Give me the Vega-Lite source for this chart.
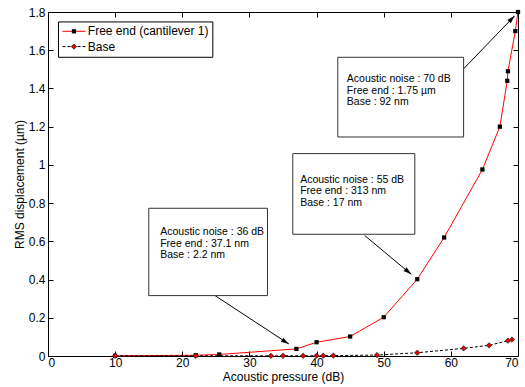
{
  "$schema": "https://vega.github.io/schema/vega-lite/v6.json",
  "width": 470,
  "height": 344,
  "autosize": {"type": "none"},
  "padding": {"left": 48, "top": 12, "right": 7, "bottom": 31},
  "config": {
    "font": "Liberation Sans",
    "view": {"stroke": "black", "strokeWidth": 1},
    "axis": {
      "grid": false,
      "domain": false,
      "tickColor": "black",
      "tickSize": -5,
      "tickWidth": 1,
      "labelColor": "black",
      "labelFontSize": 12,
      "labelFont": "Liberation Sans",
      "titleFont": "Liberation Sans",
      "titleFontSize": 12,
      "titleFontWeight": "normal",
      "titleColor": "black"
    }
  },
  "datasets": {
    "free": [
      {"db": 10, "um": 0.001},
      {"db": 22, "um": 0.004},
      {"db": 25.5, "um": 0.008},
      {"db": 37, "um": 0.0371},
      {"db": 40, "um": 0.072},
      {"db": 45, "um": 0.102},
      {"db": 50, "um": 0.203},
      {"db": 55, "um": 0.402},
      {"db": 59, "um": 0.62},
      {"db": 64.7, "um": 0.976},
      {"db": 67.3, "um": 1.2},
      {"db": 68.4, "um": 1.44},
      {"db": 68.5, "um": 1.49},
      {"db": 69.6, "um": 1.7},
      {"db": 70, "um": 1.8}
    ],
    "base": [
      {"db": 10, "um": 0.001},
      {"db": 22, "um": 0.001},
      {"db": 33.2, "um": 0.001},
      {"db": 35, "um": 0.001},
      {"db": 38, "um": 0.001},
      {"db": 40, "um": 0.0015},
      {"db": 41, "um": 0.0015},
      {"db": 42.5, "um": 0.002},
      {"db": 49, "um": 0.005},
      {"db": 55, "um": 0.017},
      {"db": 61.9, "um": 0.04},
      {"db": 65.7, "um": 0.056},
      {"db": 68.5, "um": 0.08},
      {"db": 69.1, "um": 0.086}
    ],
    "boxes": [
      {"note": "70 dB", "x1": 43.16, "x2": 61.9, "y1": 1.146, "y2": 1.563},
      {"note": "55 dB", "x1": 36.46, "x2": 54.63, "y1": 0.637, "y2": 1.059},
      {"note": "36 dB", "x1": 15.01, "x2": 32.69, "y1": 0.316, "y2": 0.773}
    ],
    "notes": [
      {"x": 44.5, "y": 1.448, "line": "Acoustic noise : 70 dB"},
      {"x": 44.5, "y": 1.387, "line": "Free end : 1.75 µm"},
      {"x": 44.5, "y": 1.328, "line": "Base : 92 nm"},
      {"x": 37.56, "y": 0.923, "line": "Acoustic noise : 55 dB"},
      {"x": 37.56, "y": 0.862, "line": "Free end : 313 nm"},
      {"x": 37.56, "y": 0.799, "line": "Base : 17 nm"},
      {"x": 16.71, "y": 0.647, "line": "Acoustic noise : 36 dB"},
      {"x": 16.71, "y": 0.587, "line": "Free end : 37.1 nm"},
      {"x": 16.71, "y": 0.526, "line": "Base : 2.2 nm"}
    ],
    "arrows": [
      {"note": "70 dB", "x1": 61.63, "y1": 1.493, "x2": 69.5, "y2": 1.78},
      {"note": "55 dB", "x1": 47.18, "y1": 0.63, "x2": 54.1, "y2": 0.4275},
      {"note": "36 dB", "x1": 24.9, "y1": 0.3155, "x2": 35.87, "y2": 0.0628}
    ],
    "legend": [
      {"series": "Free end (cantilever 1)", "y": 1.699},
      {"series": "Base", "y": 1.619}
    ]
  },
  "resolve": {"axis": {"x": "independent", "y": "independent"}},
  "layer": [
    {
      "data": {"name": "free"},
      "mark": {"type": "line", "color": "#ff0000", "strokeWidth": 1},
      "encoding": {
        "x": {
          "field": "db", "type": "quantitative",
          "scale": {"domain": [0, 70], "nice": false},
          "axis": {
            "orient": "bottom",
            "values": [0, 10, 20, 30, 40, 50, 60, 70],
            "format": "d",
            "title": "Acoustic pressure (dB)",
            "labelPadding": 6,
            "titlePadding": 3
          }
        },
        "y": {
          "field": "um", "type": "quantitative",
          "scale": {"domain": [0, 1.8], "nice": false},
          "axis": {
            "orient": "left",
            "values": [0, 0.2, 0.4, 0.6, 0.8, 1, 1.2, 1.4, 1.6, 1.8],
            "format": "~g",
            "title": "RMS displacement (µm)",
            "labelPadding": 8,
            "titlePadding": 2
          }
        }
      }
    },
    {
      "data": {"name": "base"},
      "mark": {"type": "line", "color": "black", "strokeWidth": 1, "strokeDash": [3, 2]},
      "encoding": {
        "x": {
          "field": "db", "type": "quantitative",
          "scale": {"domain": [0, 70], "nice": false},
          "axis": {
            "orient": "top",
            "values": [0, 10, 20, 30, 40, 50, 60, 70],
            "labels": false,
            "title": null
          }
        },
        "y": {
          "field": "um", "type": "quantitative",
          "scale": {"domain": [0, 1.8], "nice": false},
          "axis": {
            "orient": "right",
            "values": [0, 0.2, 0.4, 0.6, 0.8, 1, 1.2, 1.4, 1.6, 1.8],
            "labels": false,
            "title": null
          }
        }
      }
    },
    {
      "data": {"name": "free"},
      "mark": {"type": "point", "shape": "square", "filled": true, "color": "black", "size": 18, "opacity": 1},
      "encoding": {
        "x": {"field": "db", "type": "quantitative", "axis": null},
        "y": {"field": "um", "type": "quantitative", "axis": null}
      }
    },
    {
      "data": {"name": "base"},
      "mark": {"type": "point", "shape": "diamond", "filled": true, "fill": "#ee0000", "stroke": "#222222", "strokeWidth": 0.8, "size": 28, "opacity": 1},
      "encoding": {
        "x": {"field": "db", "type": "quantitative", "axis": null},
        "y": {"field": "um", "type": "quantitative", "axis": null}
      }
    },
    {
      "data": {"name": "arrows"},
      "mark": {"type": "rule", "color": "black", "strokeWidth": 1},
      "encoding": {
        "x": {"field": "x1", "type": "quantitative", "axis": null},
        "y": {"field": "y1", "type": "quantitative", "axis": null},
        "x2": {"field": "x2"},
        "y2": {"field": "y2"}
      }
    },
    {
      "data": {"name": "arrows"},
      "transform": [{"filter": "datum.note === '70 dB'"}],
      "mark": {"type": "point", "shape": "M0,0L-0.3,1L0.3,1Z", "filled": true, "color": "black", "size": 256, "angle": 44, "opacity": 1},
      "encoding": {
        "x": {"field": "x2", "type": "quantitative", "axis": null},
        "y": {"field": "y2", "type": "quantitative", "axis": null}
      }
    },
    {
      "data": {"name": "arrows"},
      "transform": [{"filter": "datum.note === '55 dB'"}],
      "mark": {"type": "point", "shape": "M0,0L-0.3,1L0.3,1Z", "filled": true, "color": "black", "size": 256, "angle": 130, "opacity": 1},
      "encoding": {
        "x": {"field": "x2", "type": "quantitative", "axis": null},
        "y": {"field": "y2", "type": "quantitative", "axis": null}
      }
    },
    {
      "data": {"name": "arrows"},
      "transform": [{"filter": "datum.note === '36 dB'"}],
      "mark": {"type": "point", "shape": "M0,0L-0.3,1L0.3,1Z", "filled": true, "color": "black", "size": 256, "angle": 123, "opacity": 1},
      "encoding": {
        "x": {"field": "x2", "type": "quantitative", "axis": null},
        "y": {"field": "y2", "type": "quantitative", "axis": null}
      }
    },
    {
      "data": {"name": "boxes"},
      "mark": {"type": "rect", "fill": "white", "stroke": "#333333", "strokeWidth": 1},
      "encoding": {
        "x": {"field": "x1", "type": "quantitative", "axis": null},
        "x2": {"field": "x2"},
        "y": {"field": "y1", "type": "quantitative", "axis": null},
        "y2": {"field": "y2"}
      }
    },
    {
      "data": {"name": "notes"},
      "mark": {"type": "text", "align": "left", "baseline": "middle", "fontSize": 10.5, "color": "black", "font": "Liberation Sans"},
      "encoding": {
        "x": {"field": "x", "type": "quantitative", "axis": null},
        "y": {"field": "y", "type": "quantitative", "axis": null},
        "text": {"field": "line"}
      }
    },
    {
      "data": {"values": [{"x1": 1.56, "x2": 24.55, "y1": 1.563, "y2": 1.748}]},
      "mark": {"type": "rect", "fill": "white", "stroke": "black", "strokeWidth": 1},
      "encoding": {
        "x": {"field": "x1", "type": "quantitative", "axis": null},
        "x2": {"field": "x2"},
        "y": {"field": "y1", "type": "quantitative", "axis": null},
        "y2": {"field": "y2"}
      }
    },
    {
      "data": {"name": "legend"},
      "transform": [{"filter": "datum.series === 'Free end (cantilever 1)'"}],
      "mark": {"type": "rule", "color": "#ff0000", "strokeWidth": 1},
      "encoding": {
        "x": {"datum": 2.16, "type": "quantitative", "axis": null},
        "x2": {"datum": 5.59},
        "y": {"field": "y", "type": "quantitative", "axis": null}
      }
    },
    {
      "data": {"name": "legend"},
      "transform": [{"filter": "datum.series === 'Base'"}],
      "mark": {"type": "rule", "color": "black", "strokeWidth": 1, "strokeDash": [3, 2]},
      "encoding": {
        "x": {"datum": 2.16, "type": "quantitative", "axis": null},
        "x2": {"datum": 5.59},
        "y": {"field": "y", "type": "quantitative", "axis": null}
      }
    },
    {
      "data": {"name": "legend"},
      "transform": [{"filter": "datum.series === 'Free end (cantilever 1)'"}],
      "mark": {"type": "point", "shape": "square", "filled": true, "color": "black", "size": 18, "opacity": 1},
      "encoding": {
        "x": {"datum": 3.87, "type": "quantitative", "axis": null},
        "y": {"field": "y", "type": "quantitative", "axis": null}
      }
    },
    {
      "data": {"name": "legend"},
      "transform": [{"filter": "datum.series === 'Base'"}],
      "mark": {"type": "point", "shape": "diamond", "filled": true, "fill": "#ee0000", "stroke": "#222222", "strokeWidth": 0.8, "size": 28, "opacity": 1},
      "encoding": {
        "x": {"datum": 3.87, "type": "quantitative", "axis": null},
        "y": {"field": "y", "type": "quantitative", "axis": null}
      }
    },
    {
      "data": {"name": "legend"},
      "mark": {"type": "text", "align": "left", "baseline": "middle", "fontSize": 12, "color": "black", "font": "Liberation Sans"},
      "encoding": {
        "x": {"datum": 5.93, "type": "quantitative", "axis": null},
        "y": {"field": "y", "type": "quantitative", "axis": null},
        "text": {"field": "series"}
      }
    }
  ]
}
